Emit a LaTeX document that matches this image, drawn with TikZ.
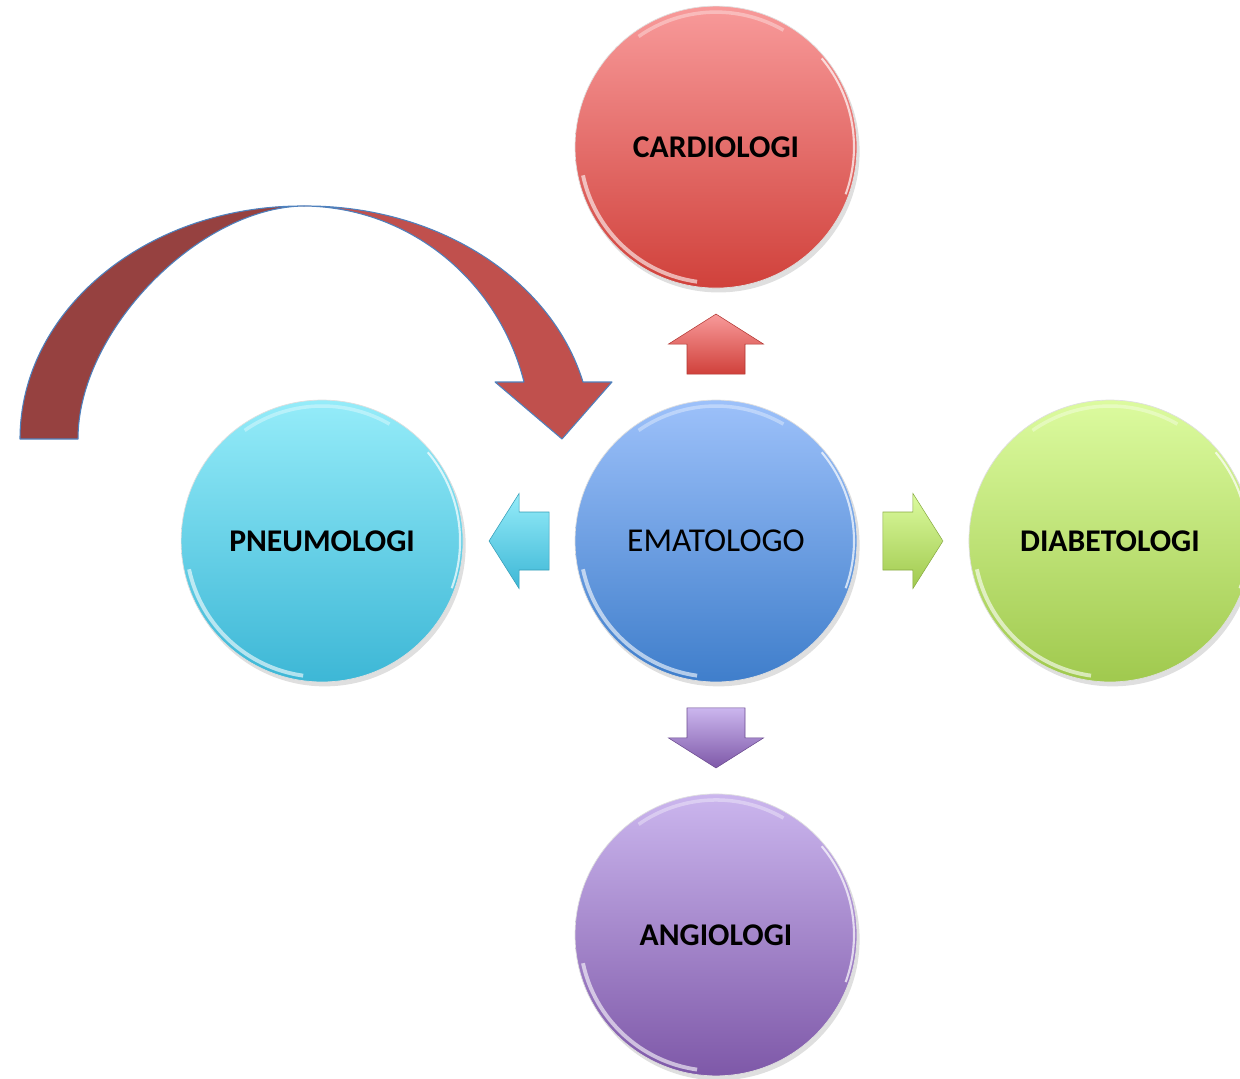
\documentclass[tikz,border=0pt]{standalone}
\usepackage{fontspec}
\setmainfont{Carlito}
\usepackage{tikz}
\usetikzlibrary{positioning, shadows, calc}

\definecolor{cardtop}{HTML}{F89A9A}
\definecolor{cardbot}{HTML}{D0413B}
\definecolor{ematop}{HTML}{9DC1FA}
\definecolor{emabot}{HTML}{3F7ECB}
\definecolor{pneutop}{HTML}{95ECF9}
\definecolor{pneubot}{HTML}{3DB7D6}
\definecolor{diabtop}{HTML}{DCFB9F}
\definecolor{diabbot}{HTML}{A0C94E}
\definecolor{angitop}{HTML}{CBB6EE}
\definecolor{angibot}{HTML}{7E58A8}
\definecolor{backband}{HTML}{964140}
\definecolor{frontband}{HTML}{C0504D}
\definecolor{arrowline}{HTML}{4F81BD}

\begin{document}
\begin{tikzpicture}[
  x=0.02cm, y=0.02cm,
  node distance=2.24cm,
  bubble/.style={circle, inner sep=0pt, outer sep=0pt, minimum size=5.64cm,
    draw=gray!25, line width=0.4pt, text=black,
    font=\fontsize{18}{20}\selectfont\bfseries,
    drop shadow={opacity=0.25, shadow xshift=1.5pt, shadow yshift=-2.5pt},
    path picture={
      \draw[white, line width=2.2pt, opacity=0.6] (path picture bounding box.center)
        ++(192:2.72cm) arc[start angle=192, end angle=262, radius=2.72cm];
      \draw[white, line width=1.2pt, opacity=0.7] (path picture bounding box.center)
        ++(-20:2.76cm) arc[start angle=-20, end angle=40, radius=2.76cm];
      \draw[white, line width=2pt, opacity=0.35] (path picture bounding box.center)
        ++(60:2.7cm) arc[start angle=60, end angle=125, radius=2.7cm];
    }},
  band/.style={draw=arrowline, line width=0.6pt, line join=round},
  pics/blockarrow/.style 2 args={code={
    \shade[top color=#1, bottom color=#2, draw=#2!85!black, line width=0.3pt]
      (-30,-29) -- (0,-29) -- (0,-47.5) -- (30,0) -- (0,47.5) -- (0,29) -- (-30,29) -- cycle;
  }}
]
\useasboundingbox (0,0) rectangle (1240,-1078);

% Centre node
\node[bubble, top color=ematop, bottom color=emabot, font=\fontsize{19}{21}\selectfont] (ema) at (716,-541) {EMATOLOGO};

% Outer nodes
\node[bubble, top color=cardtop, bottom color=cardbot, above=of ema] (card) {CARDIOLOGI};
\node[bubble, top color=pneutop, bottom color=pneubot, left=of ema] (pneu) {PNEUMOLOGI};
\node[bubble, top color=diabtop, bottom color=diabbot, right=of ema] (diab) {DIABETOLOGI};
\node[bubble, top color=angitop, bottom color=angibot, below=of ema] (angi) {ANGIOLOGI};

% Block arrows
\pic[rotate=90] (uparrow) at ($(ema.north)!0.5!(card.south)$) {blockarrow={cardtop}{cardbot}};
\pic[rotate=180] (leftarrow) at ($(ema.west)!0.5!(pneu.east)$) {blockarrow={pneutop}{pneubot}};
\pic (rightarrow) at ($(ema.east)!0.5!(diab.west)$) {blockarrow={diabtop}{diabbot}};
\pic[rotate=-90] (downarrow) at ($(ema.south)!0.5!(angi.north)$) {blockarrow={angitop}{angibot}};

% Curved arrow
\coordinate (arctop) at (304,-206);
\coordinate (arcend) at (562,-439);
\filldraw[band, fill=backband] (20,-439) .. controls (20,-310) and (147,-205) .. (arctop)
  .. controls (200,-207) and (78,-330) .. (78,-439) -- cycle;
\filldraw[band, fill=frontband] (arctop) .. controls (436,-205) and (551,-278) .. (583,-382)
  -- (612,-382) -- (arcend) -- (495,-382) -- (524,-382)
  .. controls (498,-279) and (408,-207) .. (arctop) -- cycle;

\end{tikzpicture}
\end{document}
